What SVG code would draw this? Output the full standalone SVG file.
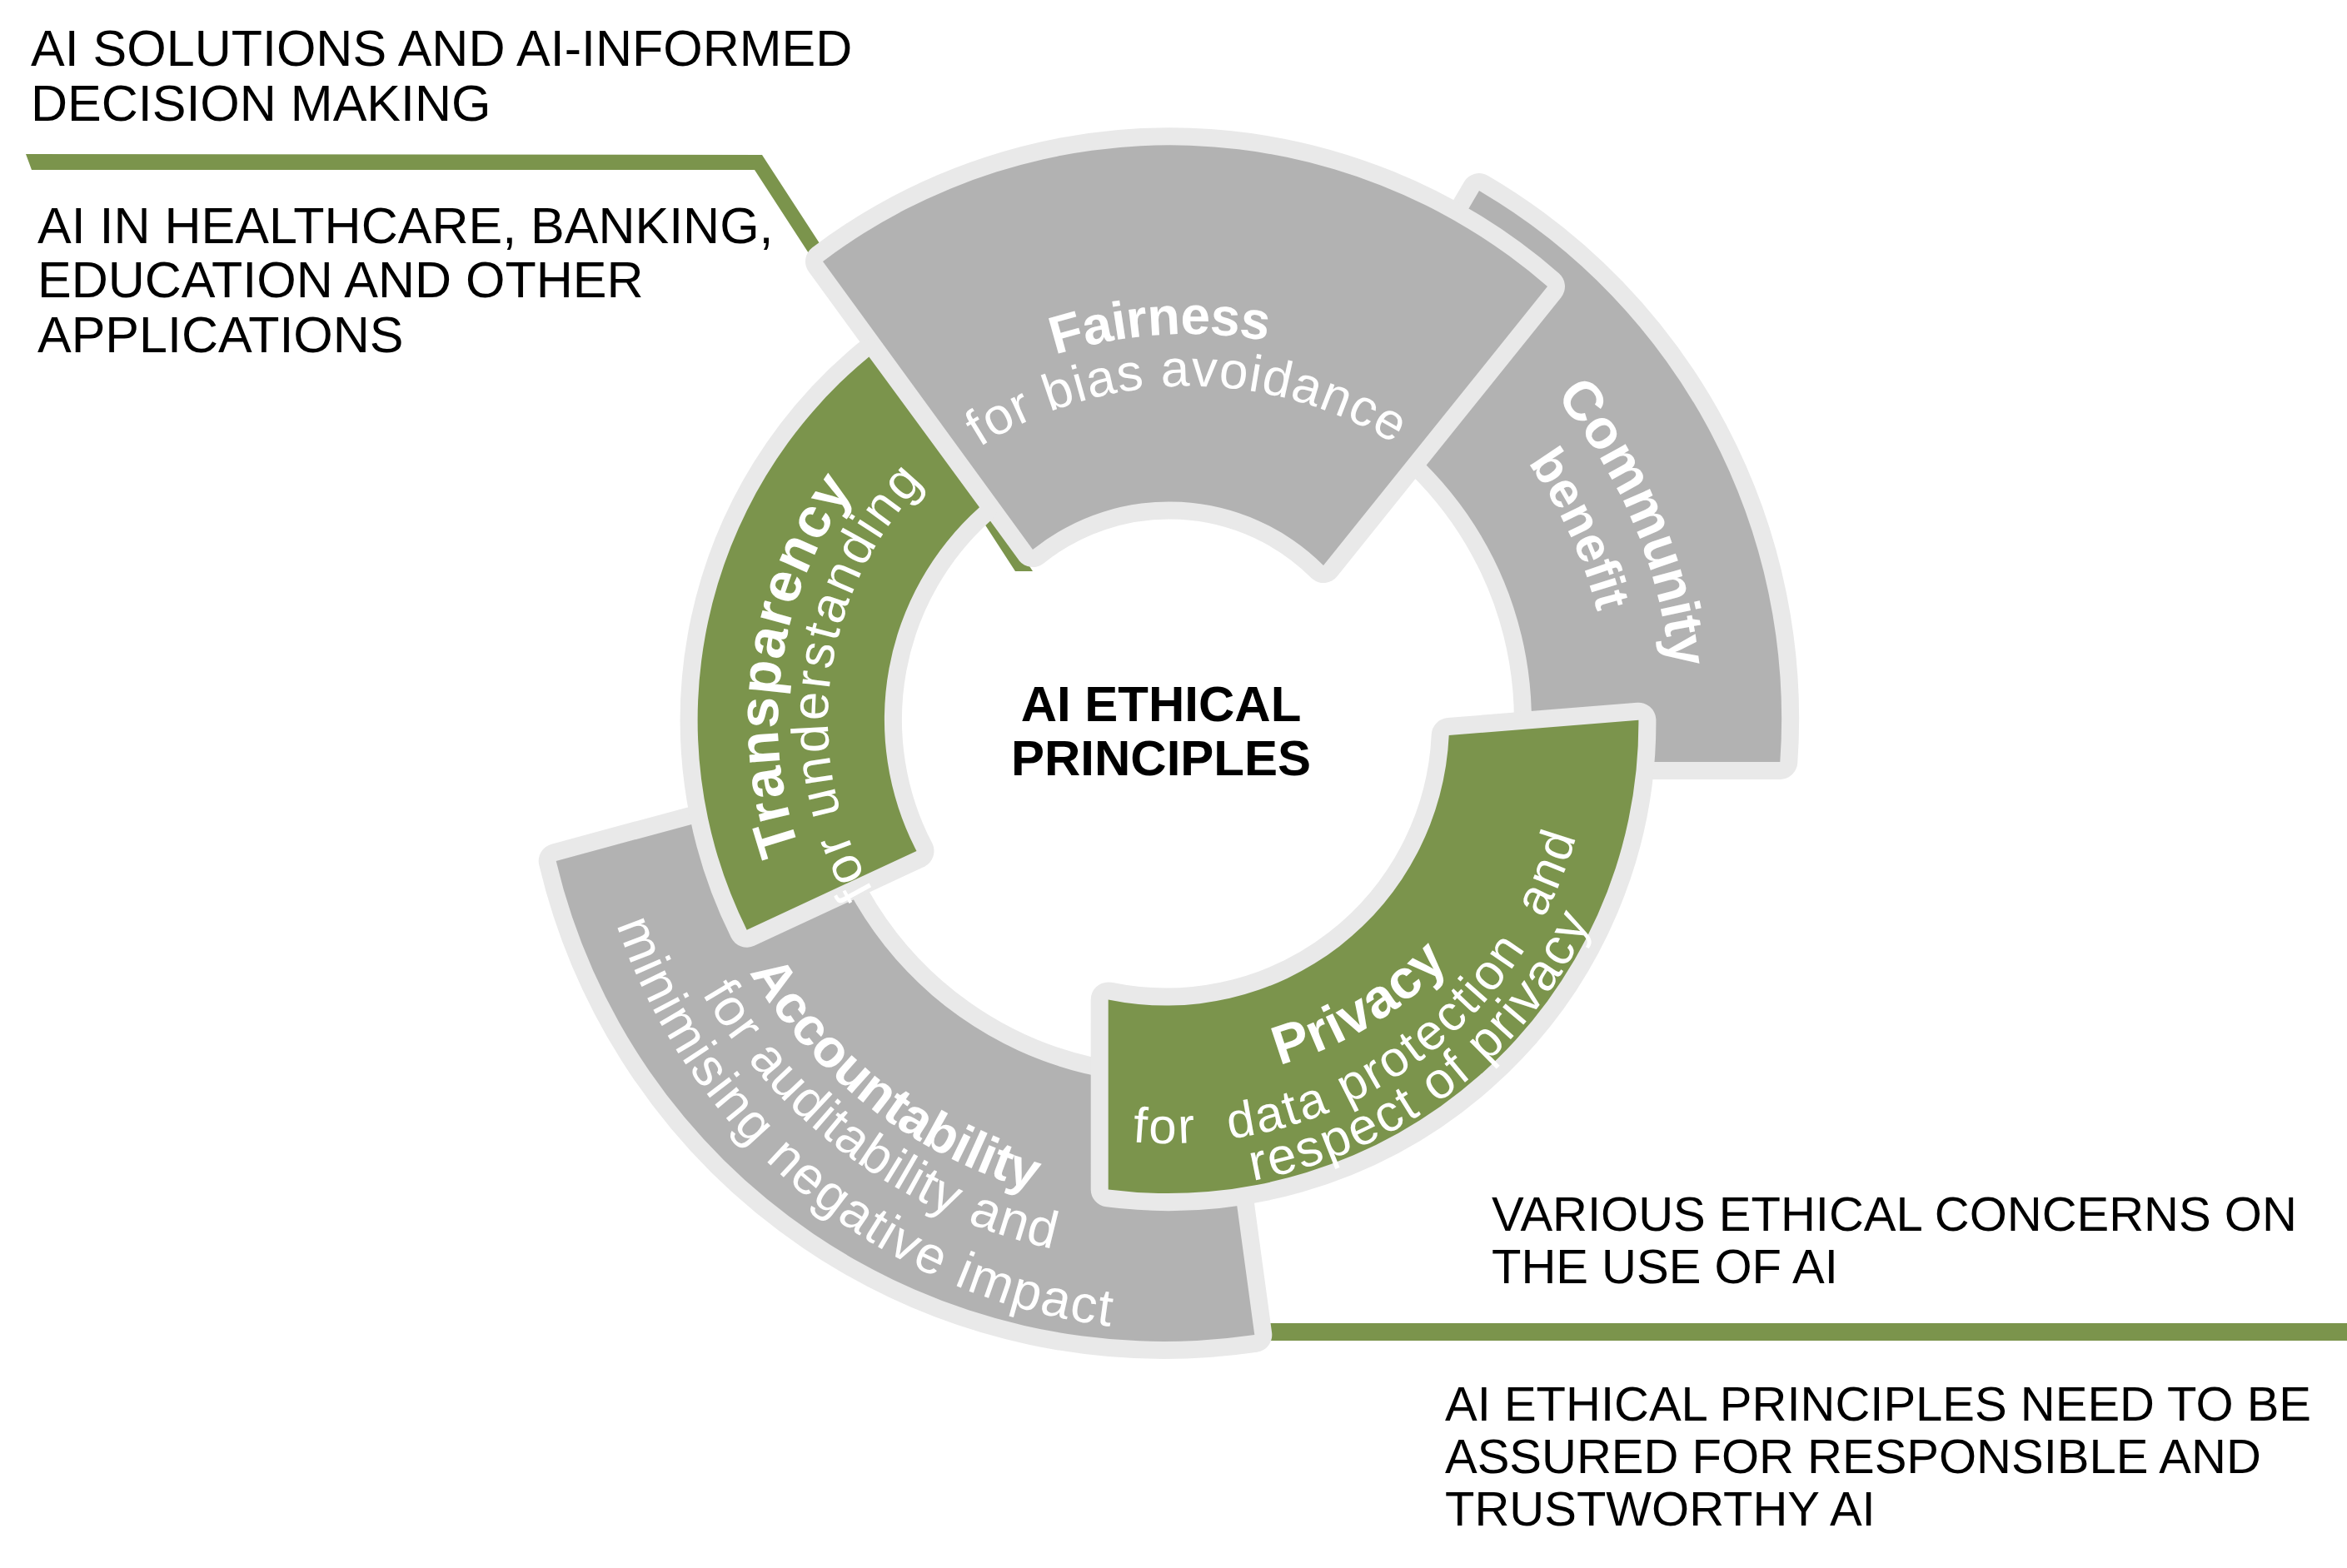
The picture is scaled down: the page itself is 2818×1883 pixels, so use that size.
<svg xmlns="http://www.w3.org/2000/svg" xmlns:xlink="http://www.w3.org/1999/xlink" width="2818" height="1883" viewBox="0 0 2818 1883">
<style>
.seg{stroke:#e9e9e9;stroke-width:42;stroke-linejoin:round;paint-order:stroke fill}
.gray{fill:#b2b2b2}
.green{fill:#7b944c}
.lbl{font-family:"Liberation Sans",Arial,Helvetica,sans-serif;fill:#ffffff;white-space:pre}
.b{font-weight:bold}
.note{font-family:"Liberation Sans",Arial,Helvetica,sans-serif;fill:#000000}
.ctr{font-family:"Liberation Sans",Arial,Helvetica,sans-serif;font-weight:bold;font-size:60px;fill:#000000;text-anchor:middle}
.conn{fill:#7b944c}
</style>
<defs>
<path id="pFair1" d="M 1267 426 A 530 530 0 0 1 1525 410"/>
<path id="pFair2" d="M 1176 537 A 470 470 0 0 1 1677 535"/>
<path id="pTr1" d="M 960.4 1020.3 A 470 470 0 0 1 1028.2 582.9"/>
<path id="pTr2" d="M 1048.9 1070 A 410 410 0 0 1 1114.1 575.1"/>
<path id="pCom1" d="M 1867.5 476.1 A 605 605 0 0 1 2005.7 801.8"/>
<path id="pCom2" d="M 1834.4 555.7 A 530 530 0 0 1 1917.8 735"/>
<path id="pPr1" d="M 1536 1279 A 442 442 0 0 0 1738 1158"/>
<path id="pPr2" d="M 1359.7 1371.1 A 508 508 0 0 0 1893.5 1000.8"/>
<path id="pPr3" d="M 1504.1 1418 A 562 562 0 0 0 1911.5 1103"/>
<path id="pAc1" d="M 900 1167.8 A 588 588 0 0 0 1244.9 1431.1"/>
<path id="pAc2" d="M 842.8 1193 A 650 650 0 0 0 1265.5 1500.1"/>
<path id="pAc3" d="M 740.6 1110.5 A 720 720 0 0 0 1340.4 1593.6"/>
</defs>
<rect x="0" y="0" width="2818" height="1883" fill="#ffffff"/>

<g id="connectors">
<polygon class="conn" points="31,185 915,186 1240,686 1219,686 906,204 38,204"/>
<rect class="conn" x="1480" y="1589" width="1338" height="21"/>
</g>

<g id="community">
<path class="seg gray" d="M 1776 229 A 735 735 0 0 1 2137.3 915 L 1836 915 A 435 435 0 0 0 1623.5 489.4 Z"/>
<text class="lbl b" font-size="66"><textPath xlink:href="#pCom1" textLength="359">Community</textPath></text>
<text class="lbl b" font-size="60"><textPath xlink:href="#pCom2" textLength="199">benefit</textPath></text>
</g>

<g id="accountability">
<path class="seg gray" d="M 667.7 1033.9 L 976.5 950.4 A 436 436 0 0 0 1464.7 1296.8 L 1506.3 1603 A 750 750 0 0 1 667.7 1033.9 Z"/>
<text class="lbl b" font-size="64"><textPath xlink:href="#pAc1" textLength="440">Accountability</textPath></text>
<text class="lbl" font-size="63"><textPath xlink:href="#pAc2" textLength="536">for auditability and</textPath></text>
<text class="lbl" font-size="63"><textPath xlink:href="#pAc3" textLength="805">minimising negative impact</textPath></text>
</g>

<g id="fairness">
<path class="seg gray" d="M 988 314 A 691 691 0 0 1 1858 344 L 1589 679 A 262 262 0 0 0 1240 660 Z"/>
<text class="lbl b" font-size="64"><textPath xlink:href="#pFair1" textLength="258">Fairness</textPath></text>
<text class="lbl" font-size="62"><textPath xlink:href="#pFair2" textLength="525">for bias avoidance</textPath></text>
</g>

<g id="transparency">
<path class="seg green" d="M 1043.4 428.4 L 1176 609.2 A 342 342 0 0 0 1100.5 1022 L 896.7 1116.7 A 566 566 0 0 1 1043.4 428.4 Z"/>
<text class="lbl b" font-size="68"><textPath xlink:href="#pTr1" textLength="455">Transparency</textPath></text>
<text class="lbl" font-size="62"><textPath xlink:href="#pTr2" textLength="530">for understanding</textPath></text>
</g>

<g id="privacy">
<path class="seg green" d="M 1739.7 883 L 1967.4 864.8 A 565 565 0 0 1 1330.7 1428.5 L 1330.7 1200.4 A 340 340 0 0 0 1739.7 883 Z"/>
<text class="lbl b" font-size="66"><textPath xlink:href="#pPr1" textLength="240">Privacy</textPath></text>
<text class="lbl" font-size="60"><textPath xlink:href="#pPr2" textLength="700">for  data protection  and</textPath></text>
<text class="lbl" font-size="62"><textPath xlink:href="#pPr3" textLength="530">respect of privacy</textPath></text>
</g>

<g id="center">
<text class="ctr" x="1394" y="866">AI ETHICAL</text>
<text class="ctr" x="1394" y="931">PRINCIPLES</text>
</g>

<g id="note-top">
<text class="note" font-size="61" x="37" y="79">AI SOLUTIONS AND AI-INFORMED</text>
<text class="note" font-size="61" x="37" y="145">DECISION MAKING</text>
</g>
<g id="note-applications">
<text class="note" font-size="61" x="45" y="292">AI IN HEALTHCARE, BANKING,</text>
<text class="note" font-size="61" x="45" y="357">EDUCATION AND OTHER</text>
<text class="note" font-size="61" x="45" y="423">APPLICATIONS</text>
</g>
<g id="note-concerns">
<text class="note" font-size="58" x="1791" y="1478">VARIOUS ETHICAL CONCERNS ON</text>
<text class="note" font-size="58" x="1791" y="1541">THE USE OF AI</text>
</g>
<g id="note-assured">
<text class="note" font-size="58" x="1735" y="1706">AI ETHICAL PRINCIPLES NEED TO BE</text>
<text class="note" font-size="58" x="1735" y="1769">ASSURED FOR RESPONSIBLE AND</text>
<text class="note" font-size="58" x="1735" y="1832">TRUSTWORTHY AI</text>
</g>
</svg>
